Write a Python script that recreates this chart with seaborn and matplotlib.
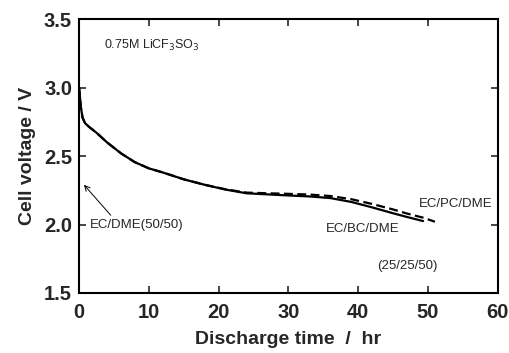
import matplotlib
matplotlib.use("Agg")
import matplotlib.pyplot as plt
import seaborn as sns
import pandas as pd

# Data
t_bc = [0.0, 0.1, 0.25, 0.5, 0.86, 1.5, 2.5, 4.0, 6.0, 8.0, 10.0, 12.0, 15.0, 18.0, 21.0, 24.0, 27.0, 30.0, 33.0, 36.0, 39.0, 42.0, 45.0, 47.0, 49.3]
v_bc = [3.0, 2.95, 2.86, 2.78, 2.74, 2.71, 2.67, 2.60, 2.52, 2.455, 2.41, 2.38, 2.33, 2.29, 2.255, 2.228, 2.22, 2.212, 2.205, 2.193, 2.165, 2.125, 2.082, 2.055, 2.025]
t_pc = [0.0, 0.1, 0.25, 0.5, 0.86, 1.5, 2.5, 4.0, 6.0, 8.0, 10.0, 12.0, 15.0, 18.0, 21.0, 24.0, 27.0, 30.0, 33.0, 36.0, 39.0, 42.0, 45.0, 47.0, 49.3, 51.0]
v_pc = [3.0, 2.95, 2.86, 2.78, 2.74, 2.71, 2.67, 2.60, 2.52, 2.455, 2.41, 2.38, 2.33, 2.29, 2.257, 2.233, 2.228, 2.224, 2.219, 2.208, 2.185, 2.15, 2.11, 2.08, 2.05, 2.02]
x_ticks = [0, 10, 20, 30, 40, 50, 60]
y_ticks = [1.5, 2.0, 2.5, 3.0, 3.5]

df = pd.concat([
    pd.DataFrame({"t": t_bc, "v": v_bc, "s": "EC/BC/DME"}),
    pd.DataFrame({"t": t_pc, "v": v_pc, "s": "EC/PC/DME"}),
])

sns.set_theme(style="ticks")
plt.rcParams["font.family"] = ["Liberation Sans", "DejaVu Sans"]

fig = plt.figure(figsize=(5.1, 3.53), dpi=100)
ax = fig.add_axes([0.155, 0.170, 0.821, 0.776])

sns.lineplot(data=df, x="t", y="v", hue="s", style="s",
             palette={"EC/BC/DME": "black", "EC/PC/DME": "black"},
             dashes={"EC/BC/DME": "", "EC/PC/DME": (4, 2)},
             linewidth=1.6, legend=False, ax=ax, sort=False)

ax.set_xlim(0, 60)
ax.set_ylim(1.5, 3.5)
ax.set_xticks(x_ticks)
ax.set_yticks(y_ticks)
ax.set_xticklabels([str(v) for v in x_ticks], fontsize=14.5, fontweight="bold")
ax.set_yticklabels([f"{v:.1f}" for v in y_ticks], fontsize=14.5, fontweight="bold")
ax.tick_params(axis="x", direction="in", top=True, length=5, width=1.2, pad=7)
ax.tick_params(axis="y", direction="in", right=True, length=5, width=1.2, pad=5)
for sp in ax.spines.values():
    sp.set_linewidth(1.5)
    sp.set_color("black")

ax.set_xlabel("Discharge time  /  hr", fontsize=14, fontweight="bold", labelpad=7)
ax.set_ylabel("Cell voltage / V", fontsize=14, fontweight="bold", labelpad=6)

ax.text(3.6, 3.31, "0.75M LiCF$_3$SO$_3$", fontsize=9, ha="left", va="center")
ax.annotate("EC/DME(50/50)", xy=(0.7, 2.29), xytext=(1.6, 2.0),
            fontsize=9.5, ha="left", va="center",
            arrowprops=dict(arrowstyle="->", color="black", lw=0.7,
                            shrinkA=0, shrinkB=0, relpos=(0.25, 1.0)))
ax.text(53.9, 2.15, "EC/PC/DME", fontsize=9.5, ha="center", va="center")
ax.text(40.6, 1.97, "EC/BC/DME", fontsize=9.5, ha="center", va="center")
ax.text(47.1, 1.70, "(25/25/50)", fontsize=9.5, ha="center", va="center")

fig.savefig("out.png", dpi=100)
